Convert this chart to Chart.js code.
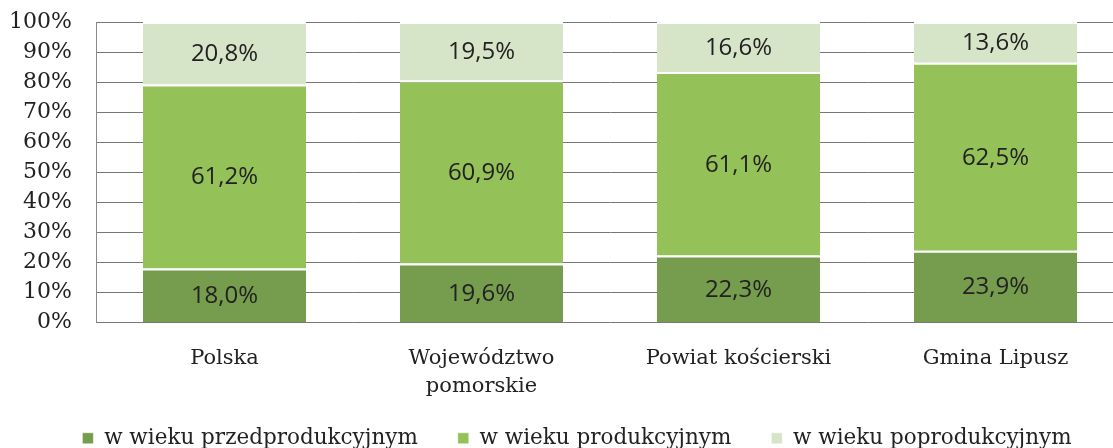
<!DOCTYPE html>
<html><head><meta charset="utf-8">
<script src="https://cdn.jsdelivr.net/npm/chart.js@4"></script>
<style>
html,body{margin:0;padding:0;background:#fff;overflow:hidden;}
#wrap{position:relative;width:1113px;height:448px;overflow:hidden;}
canvas{display:block;}
</style></head>
<body>
<div id="wrap"><canvas id="c" width="1124" height="474"></canvas></div>
<script>
const categories = ['Polska', ['Województwo','pomorskie'], 'Powiat kościerski', 'Gmina Lipusz'];
const seriesNames = ['w wieku przedprodukcyjnym', 'w wieku produkcyjnym', 'w wieku poprodukcyjnym'];
const przedprodukcyjny = [18.0, 19.6, 22.3, 23.9];
const produkcyjny = [61.2, 60.9, 61.1, 62.5];
const poprodukcyjny = [20.8, 19.5, 16.6, 13.6];
const yTicks = [0,10,20,30,40,50,60,70,80,90,100];

const colors = ['#769c4e', '#94c158', '#d6e4c8'];
const serif = "'DejaVu Serif', serif";
const sans = "'Open Sans', sans-serif";

const labelPlugin = {
  id: 'vals',
  afterDatasetsDraw(chart) {
    const ctx = chart.ctx;
    ctx.save();
    ctx.font = "24px " + sans;
    ctx.fillStyle = '#222';
    ctx.textAlign = 'center';
    ctx.textBaseline = 'middle';
    chart.data.datasets.forEach((ds, i) => {
      const meta = chart.getDatasetMeta(i);
      meta.data.forEach((el, j) => {
        const p = el.getProps(['x','y','base'], true);
        const txt = ds.data[j].toFixed(1).replace('.', ',') + '%';
        ctx.fillText(txt, p.x, (p.y + p.base) / 2 + 1);
      });
    });
    ctx.restore();
  }
};

// shift the legend box a little (reference legend is not centred on the plot)
const legendShift = {
  id: 'legendShift',
  afterLayout(chart) {
    const l = chart.legend;
    if (!l) return;
    l.left += 30;
    l.top -= 15; l.bottom -= 15;
  }
};

const mk = (label, data, c) => ({
  label, data, backgroundColor: c,
  borderColor: '#ffffff',
  borderWidth: {top: 2, left: 0, right: 0, bottom: 0},
  borderSkipped: false,
  barPercentage: 1, categoryPercentage: 0.635
});

new Chart(document.getElementById('c'), {
  type: 'bar',
  data: {
    labels: categories,
    datasets: [
      mk(seriesNames[0], przedprodukcyjny, colors[0]),
      mk(seriesNames[1], produkcyjny, colors[1]),
      mk(seriesNames[2], poprodukcyjny, colors[2])
    ]
  },
  options: {
    responsive: false,
    animation: false,
    devicePixelRatio: 1,
    layout: {padding: {top: 22, bottom: 0, left: 0, right: 0}},
    plugins: {
      legend: {
        position: 'bottom',
        labels: {
          font: {family: serif, size: 21.5},
          color: '#222',
          boxWidth: 11, boxHeight: 11,
          padding: 40
        }
      },
      tooltip: {enabled: false}
    },
    scales: {
      x: {
        stacked: true,
        grid: {display: false},
        border: {display: false},
        ticks: {font: {family: serif, size: 21, lineHeight: 1.35}, color: '#222', padding: 14, maxRotation: 0, autoSkip: false},
        afterFit(s) { s.height = 80; s.paddingLeft = 0; s.paddingRight = 0; }
      },
      y: {
        stacked: true,
        min: 0, max: 100,
        afterBuildTicks(s) { s.ticks = yTicks.map(v => ({value: v})); },
        afterFit(s) { s.width = 96; s.paddingTop = 0; s.paddingBottom = 0; },
        grid: {color: '#777777', lineWidth: 1, drawTicks: false},
        border: {display: true, color: '#8a8a8a'},
        ticks: {font: {family: serif, size: 22}, color: '#222', padding: 24, autoSkip: false, callback: v => v + '%'}
      }
    }
  },
  plugins: [labelPlugin, legendShift]
});
</script>
</body></html>
